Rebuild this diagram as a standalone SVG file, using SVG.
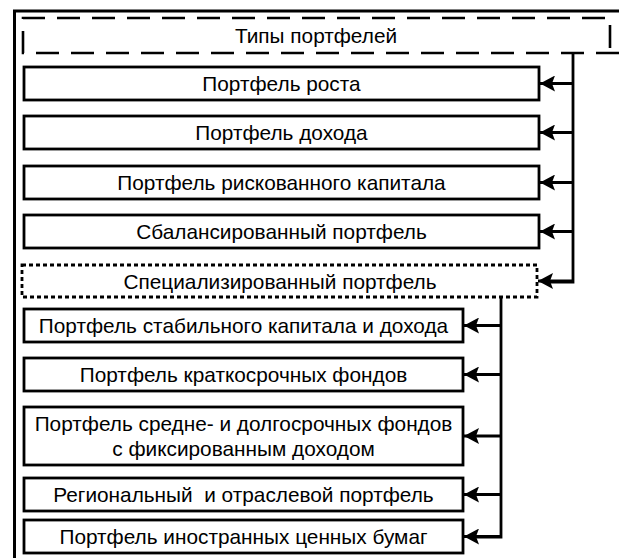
<svg xmlns="http://www.w3.org/2000/svg" width="619" height="558" viewBox="0 0 619 558">
  <style>
    .box { fill: #fff; stroke: #000; stroke-width: 2.8; }
    .dots { fill: #fff; stroke: #000; stroke-width: 2.8; stroke-dasharray: 4 3; }
    .dash { fill: none; stroke: #000; stroke-width: 2.6; stroke-dasharray: 23 12; }
    .frame { fill: none; stroke: #000; stroke-width: 3; }
    .wire { fill: none; stroke: #000; stroke-width: 2.8; }
    text { font-family: "Liberation Sans", Arial, sans-serif; font-size: 20.8px; fill: #000; text-anchor: middle; }
  </style>
  <defs>
    <marker id="arrow" viewBox="0 0 15 16" refX="15" refY="8" markerWidth="15" markerHeight="16" markerUnits="userSpaceOnUse" orient="auto">
      <path d="M0,0 L15,8 L0,16 L3,8 Z" fill="#000"/>
    </marker>
  </defs>
  <rect width="619" height="558" fill="#fff"/>

  <!-- outer frame: left and top edges -->
  <path class="frame" d="M14.5,558 V11 H619"/>

  <!-- title -->
  <g id="title">
    <path class="dash" d="M619,53 H23 V18 H610 V53"/>
    <text x="316" y="43">Типы портфелей</text>
  </g>

  <g id="growth">
    <rect class="box" x="24" y="67" width="515" height="33"/>
    <text x="281.5" y="91">Портфель роста</text>
  </g>
  <g id="income">
    <rect class="box" x="24" y="116" width="515" height="33"/>
    <text x="281.5" y="140">Портфель дохода</text>
  </g>
  <g id="venture">
    <rect class="box" x="24" y="166" width="515" height="33"/>
    <text x="281.5" y="190">Портфель рискованного капитала</text>
  </g>
  <g id="balanced">
    <rect class="box" x="24" y="215" width="515" height="33"/>
    <text x="281.5" y="239">Сбалансированный портфель</text>
  </g>
  <g id="specialized">
    <rect class="dots" x="22" y="265" width="515" height="32"/>
    <text x="280" y="289">Специализированный портфель</text>
  </g>

  <g id="stable">
    <rect class="box" x="24" y="309" width="439" height="33"/>
    <text x="243.5" y="333">Портфель стабильного капитала и дохода</text>
  </g>
  <g id="short-term">
    <rect class="box" x="24" y="358" width="439" height="33"/>
    <text x="243.5" y="382">Портфель краткосрочных фондов</text>
  </g>
  <g id="fixed-income">
    <rect class="box" x="24" y="407" width="439" height="58"/>
    <text x="243.5" y="431">Портфель средне- и долгосрочных фондов</text>
    <text x="243.5" y="456">с фиксированным доходом</text>
  </g>
  <g id="regional">
    <rect class="box" x="24" y="478" width="439" height="33"/>
    <text x="243.5" y="502" xml:space="preserve">Региональный  и отраслевой портфель</text>
  </g>
  <g id="foreign">
    <rect class="box" x="24" y="520" width="439" height="33"/>
    <text x="243.5" y="544">Портфель иностранных ценных бумаг</text>
  </g>

  <g id="connectors">
    <!-- first level trunk -->
    <path class="wire" d="M573,53 V282 H550"/>
    <path class="wire" d="M573,83.5 H540" marker-end="url(#arrow)"/>
    <path class="wire" d="M573,132.5 H540" marker-end="url(#arrow)"/>
    <path class="wire" d="M573,182.5 H540" marker-end="url(#arrow)"/>
    <path class="wire" d="M573,231.5 H540" marker-end="url(#arrow)"/>
    <path class="wire" d="M573,281 H538" marker-end="url(#arrow)"/>
    <!-- specialized trunk -->
    <path class="wire" d="M501,297 V537 H475"/>
    <path class="wire" d="M501,536.5 H464" marker-end="url(#arrow)"/>
    <path class="wire" d="M501,325.5 H464" marker-end="url(#arrow)"/>
    <path class="wire" d="M501,374.5 H464" marker-end="url(#arrow)"/>
    <path class="wire" d="M501,436 H464" marker-end="url(#arrow)"/>
    <path class="wire" d="M501,494.5 H464" marker-end="url(#arrow)"/>
  </g>
</svg>
